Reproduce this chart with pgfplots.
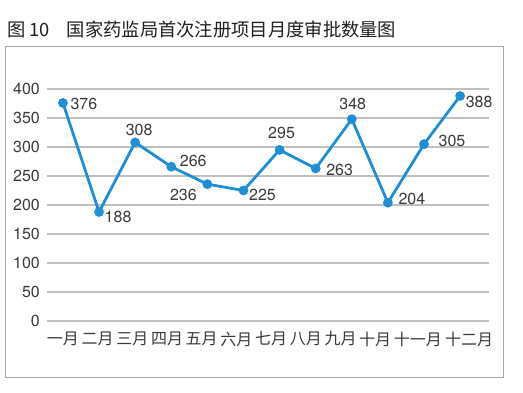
\documentclass[border=0pt]{standalone}
\usepackage{pgfplots}
\pgfplotsset{compat=1.18}
\usepackage{pgfplotstable}
\usepackage{fontspec}
\setmainfont{TeX Gyre Heros}
\newfontfamily\cjk{Noto Sans CJK SC}
\definecolor{lineblue}{HTML}{1E8FD5}
\definecolor{gridgray}{HTML}{C0C0C0}
\definecolor{txt}{HTML}{3A3A3A}
\definecolor{boxgray}{HTML}{A8A8A8}

\pgfplotstableread{
x y xs ys
0 376 21 -1.3
1 188 19 -5
2 308 4 12.7
3 266 22 5.7
4 236 -24 -10.7
5 225 19 -4.3
6 295 2 16.7
7 263 24 -1
8 348 1 15
9 204 24 3.3
10 305 28 3.3
11 388 19 -6.4
}\datatable

\begin{document}
\begin{tikzpicture}
\path[use as bounding box] (0pt,0pt) rectangle (523pt,392pt);
\draw[color=boxgray, line width=1pt] (5pt,15pt) rectangle (503pt,345pt);
\node[anchor=base west, inner sep=0pt, text=black!88, font=\cjk\fontsize{18.3}{18.3}\selectfont] at (7pt,355.5pt) {图 10};
\node[anchor=base west, inner sep=0pt, text=black!88, font=\cjk\fontsize{18.3}{18.3}\selectfont] at (66.7pt,355.5pt) {国家药监局首次注册项目月度审批数量图};
\begin{axis}[
  at={(46.7pt,71pt)}, anchor=south west,
  scale only axis, width=442.3pt, height=232pt,
  xmin=-0.45, xmax=11.8, ymin=0, ymax=400,
  ytick={0,50,...,400},
  xtick={0,0.961,1.922,2.883,3.844,4.805,5.766,6.727,7.688,8.649,9.83,11.25},
  xticklabels={一月,二月,三月,四月,五月,六月,七月,八月,九月,十月,十一月,十二月},
  axis line style={draw=none},
  major tick length=0pt,
  ymajorgrids,
  grid style={gridgray, line width=1.6pt},
  /pgf/number format/assume math mode=true,
  yticklabel style={font=\fontsize{16}{16}\selectfont, text=txt, inner sep=0pt, anchor=east, xshift=-6.7pt},
  xticklabel style={font=\cjk\fontsize{16}{16}\selectfont, text=txt, inner sep=0pt, anchor=center, yshift=-18pt},
  clip=false,
]
\addplot[lineblue, line width=2.8pt, mark=*, mark size=3.4pt,
  mark options={draw=none, fill=lineblue},
  nodes near coords, point meta=explicit,
  visualization depends on={\thisrow{xs} \as \xs},
  visualization depends on={\thisrow{ys} \as \ys},
  every node near coord/.append style={anchor=center, inner sep=0pt, font=\fontsize{16}{16}\selectfont, text=txt, xshift=\xs, yshift=\ys},
] table[x=x, y=y, meta=y] {\datatable};
\end{axis}
\end{tikzpicture}
\end{document}
